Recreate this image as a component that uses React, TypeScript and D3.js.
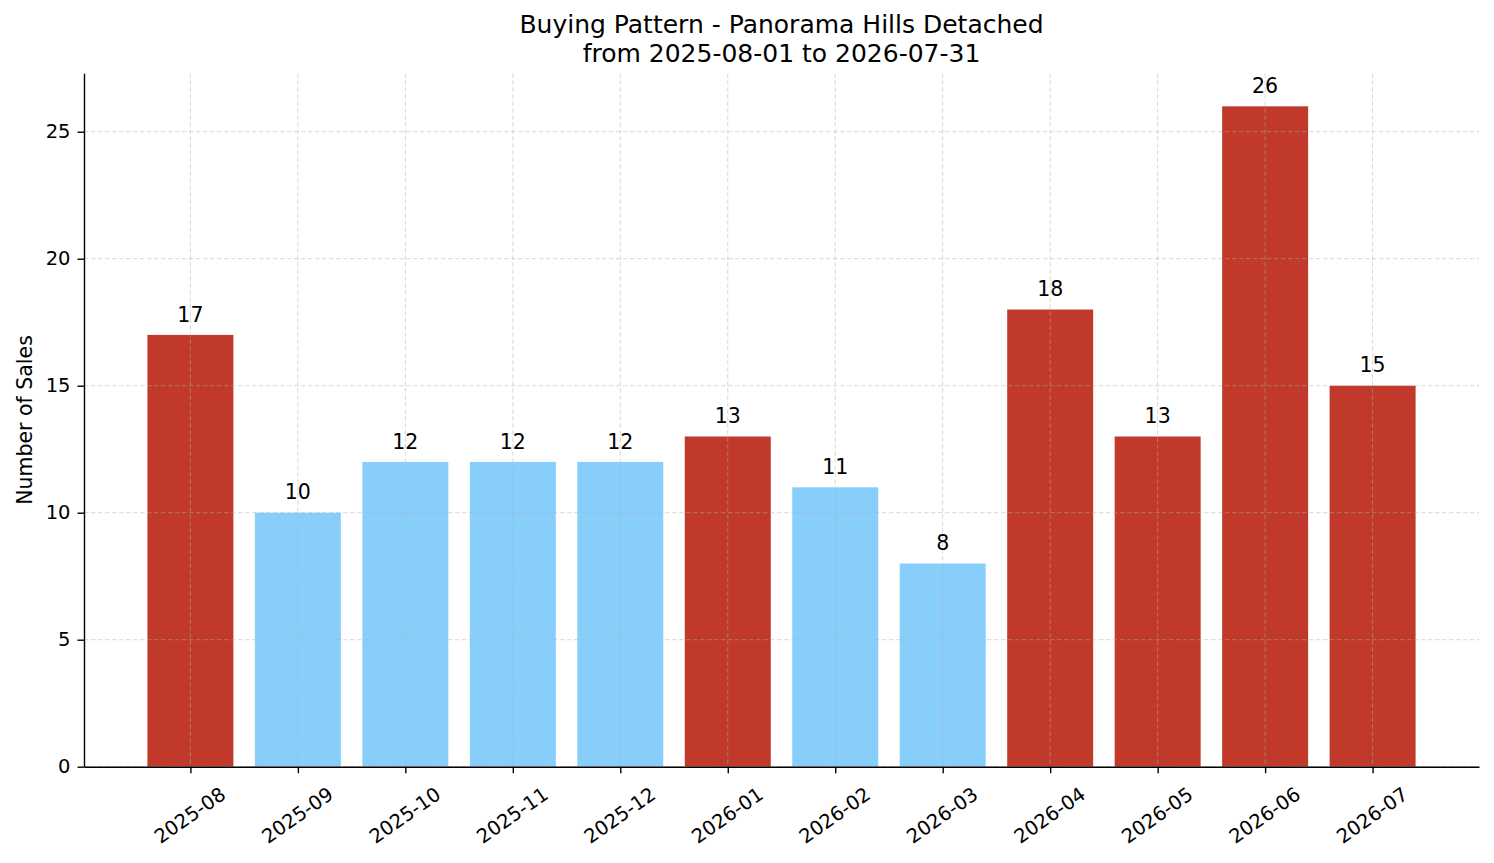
import { useEffect, useRef } from "react";
import * as d3 from "d3";

const WIDTH = 1494;
const HEIGHT = 863;
const MARGIN = { top: 73.3, right: 15, bottom: 96.3, left: 84 };

const months = [
  "2025-08", "2025-09", "2025-10", "2025-11", "2025-12", "2026-01",
  "2026-02", "2026-03", "2026-04", "2026-05", "2026-06", "2026-07",
];
const sales = [17, 10, 12, 12, 12, 13, 11, 8, 18, 13, 26, 15];
const yTicks = [0, 5, 10, 15, 20, 25];

const TITLE = "Buying Pattern - Panorama Hills Detached";
const SUBTITLE = "from 2025-08-01 to 2026-07-31";
const FONT = '"DejaVu Sans", sans-serif';
const HOT = "#c0392b";
const COLD = "#87cefa";

const App = () => {
  const xAxisRef = useRef<SVGGElement>(null);
  const yAxisRef = useRef<SVGGElement>(null);
  const boundsWidth = WIDTH - MARGIN.left - MARGIN.right;
  const boundsHeight = HEIGHT - MARGIN.top - MARGIN.bottom;

  // matplotlib style: bars are 0.8 wide, 5% margin on both sides
  const xScale = d3.scaleLinear().domain([-0.99, months.length - 1 + 0.99]).range([0, boundsWidth]);
  const yScale = d3.scaleLinear().domain([0, (d3.max(sales) ?? 0) * 1.05]).range([boundsHeight, 0]);
  const barW = xScale(0.8) - xScale(0);
  const median = d3.median(sales) ?? 0;

  useEffect(() => {
    const yAxis = d3.axisLeft(yScale).tickValues(yTicks).tickSize(6.5).tickSizeOuter(0).tickPadding(7);
    const gy = d3.select(yAxisRef.current);
    gy.selectAll("*").remove();
    gy.call(yAxis);
    gy.attr("font-size", 19.5).attr("font-family", FONT);
    gy.selectAll("path, line").attr("stroke", "#000").attr("stroke-width", 1.4);
    gy.selectAll("text").attr("fill", "#000");

    const xAxis = d3
      .axisBottom(xScale)
      .tickValues(d3.range(months.length))
      .tickFormat((d) => months[d as number])
      .tickSize(6.5)
      .tickSizeOuter(0);
    const gx = d3.select(xAxisRef.current);
    gx.selectAll("*").remove();
    gx.call(xAxis);
    gx.attr("font-size", 19.5).attr("font-family", FONT);
    gx.selectAll("path, line").attr("stroke", "#000").attr("stroke-width", 1.4);
    gx.selectAll("text")
      .attr("fill", "#000")
      .attr("y", 0)
      .attr("dy", "0.35em")
      .attr("text-anchor", "middle")
      .attr("transform", "translate(-1, 48.5) rotate(-35)");
  }, []);

  return (
    <svg width={WIDTH} height={HEIGHT} style={{ position: "absolute", left: 0, top: 0, background: "#fff" }}>
      <text x={MARGIN.left + boundsWidth / 2} y={33.3} textAnchor="middle" fontFamily={FONT} fontSize={25}>
        {TITLE}
      </text>
      <text x={MARGIN.left + boundsWidth / 2} y={61.7} textAnchor="middle" fontFamily={FONT} fontSize={25}>
        {SUBTITLE}
      </text>
      <text
        transform={`translate(31.5, ${MARGIN.top + boundsHeight / 2}) rotate(-90)`}
        textAnchor="middle"
        fontFamily={FONT}
        fontSize={20.5}
      >
        Number of Sales
      </text>
      <g transform={`translate(${MARGIN.left}, ${MARGIN.top})`}>
        {sales.map((v, i) => (
          <rect
            key={months[i]}
            x={xScale(i) - barW / 2}
            y={yScale(v)}
            width={barW}
            height={boundsHeight - yScale(v)}
            fill={v > median ? HOT : COLD}
          />
        ))}
        {/* grid on top of bars */}
        <g stroke="#b0b0b0" strokeOpacity={0.55} strokeWidth={0.9} strokeDasharray="4.5,2.5">
          {yTicks.map((t) => (
            <line key={"h" + t} x1={0} x2={boundsWidth} y1={yScale(t)} y2={yScale(t)} />
          ))}
          {months.map((m, i) => (
            <line key={"v" + m} x1={xScale(i)} x2={xScale(i)} y1={0} y2={boundsHeight} />
          ))}
        </g>
        {sales.map((v, i) => (
          <text
            key={"l" + months[i]}
            x={xScale(i)}
            y={yScale(v) - 13.3}
            textAnchor="middle"
            fontFamily={FONT}
            fontSize={20.5}
          >
            {v}
          </text>
        ))}
        <g ref={yAxisRef} />
        <g ref={xAxisRef} transform={`translate(0, ${boundsHeight})`} />
      </g>
    </svg>
  );
};

export default App;
